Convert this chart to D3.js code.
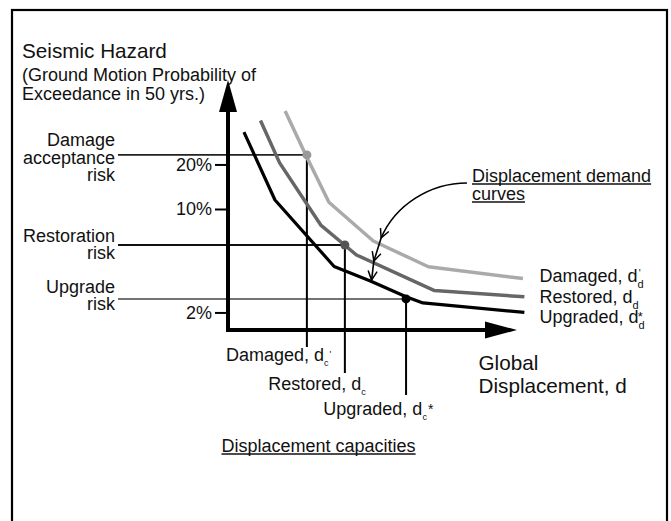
<!DOCTYPE html>
<html>
<head>
<meta charset="utf-8">
<script src="https://cdn.jsdelivr.net/npm/d3@7"></script>
<style>
  body { margin: 0; background: #fff; }
  text { font-family: "Liberation Sans", Arial, Helvetica, sans-serif; fill: #111; }
</style>
</head>
<body>
<div id="chart"></div>
<script>
// displacement (arbitrary units, 0..100) and hazard (% probability in 50 yrs)
const damagedD = [19.7, 26.9, 34.8, 50.1, 69.1, 101.7];
const damagedP = [45.9, 23.0, 11.1, 6.08, 4.07, 3.39];
const restoredD = [11.2, 17.8, 32.1, 40.2, 44.3, 71.2, 102.2];
const restoredP = [39.6, 20.5, 7.74, 5.71, 4.89, 2.81, 2.55];
const upgradedD = [5.5, 16.2, 36.6, 49.1, 61.2, 67.2, 102.2];
const upgradedP = [33.1, 11.5, 4.09, 3.26, 2.56, 2.32, 2.0];

const hazardTicks = [20, 10, 2];
const riskLevels = [23.2, 5.71, 2.47];
const riskLabels = [["Damage", "acceptance", "risk"], ["Restoration", "risk"], ["Upgrade", "risk"]];
const capacityD = [27.2, 40.3, 61.4];
const capacityNames = ["Damaged, d", "Restored, d", "Upgraded, d"];
const demandNames = ["Damaged, d", "Restored, d", "Upgraded, d"];

// annotation arrow: start at label, then hits each demand curve
const arrowD = [82.4, 52.8, 50.3, 49.5];
const arrowP = [15.0, 6.37, 4.45, 3.31];

const W = 671, H = 521;
const svg = d3.select("#chart").append("svg").attr("width", W).attr("height", H);

const x = d3.scaleLinear().domain([0, 100]).range([228, 518]);
const y = d3.scaleLog().domain([1, 100]).range([357, 61]);
const originY = 330;

// frame (open at the bottom)
svg.append("rect")
  .attr("x", 12).attr("y", 10)
  .attr("width", 655).attr("height", 560)
  .attr("fill", "none").attr("stroke", "#000").attr("stroke-width", 2.2);

// title
svg.append("text").attr("x", 22).attr("y", 58).style("font-size", "20.7px").text("Seismic Hazard");
svg.append("text").attr("x", 22).attr("y", 81).style("font-size", "18px").text("(Ground Motion Probability of");
svg.append("text").attr("x", 22).attr("y", 100).style("font-size", "18px").text("Exceedance in 50 yrs.)");

// risk level lines and labels
const riskColors = ["#222", "#111", "#444"];
const riskWidths = [1.8, 2.2, 1.5];
const labelTop = [146, 241.7, 292.5];
riskLevels.forEach((p, i) => {
  svg.append("line")
    .attr("x1", 118).attr("x2", x(capacityD[i]))
    .attr("y1", y(p)).attr("y2", y(p))
    .attr("stroke", riskColors[i]).attr("stroke-width", riskWidths[i]);
  riskLabels[i].forEach((t, j) => {
    svg.append("text")
      .attr("x", 115).attr("y", labelTop[i] + j * 17.5)
      .attr("text-anchor", "end").style("font-size", "18px").text(t);
  });
});

// capacity lines (vertical)
const capBottom = [347, 373, 395];
capacityD.forEach((d, i) => {
  svg.append("line")
    .attr("x1", x(d)).attr("x2", x(d))
    .attr("y1", y(riskLevels[i])).attr("y2", capBottom[i])
    .attr("stroke", "#000").attr("stroke-width", 2);
});

// demand curves
const line = d3.line().x(d => x(d[0])).y(d => y(d[1]));
const curves = [
  { d: damagedD, p: damagedP, color: "#aaaaaa", w: 3.5 },
  { d: restoredD, p: restoredP, color: "#666666", w: 3.5 },
  { d: upgradedD, p: upgradedP, color: "#000000", w: 3.2 }
];
curves.forEach(c => {
  svg.append("path")
    .datum(d3.zip(c.d, c.p))
    .attr("fill", "none")
    .attr("stroke", c.color)
    .attr("stroke-width", c.w)
    .attr("stroke-linejoin", "round")
    .attr("d", line);
});

// dots at capacity / risk intersections
const dotColors = ["#999999", "#555555", "#000000"];
capacityD.forEach((d, i) => {
  svg.append("circle")
    .attr("cx", x(d)).attr("cy", y(riskLevels[i]))
    .attr("r", 4.5).attr("fill", dotColors[i]);
});

// y axis ticks
const yAxis = d3.axisLeft(y).tickValues(hazardTicks).tickFormat(d => d + "%").tickSize(13).tickPadding(3);
const gy = svg.append("g").attr("transform", `translate(${x(0)},0)`).call(yAxis);
gy.select(".domain").remove();
gy.selectAll(".tick line").attr("stroke", "#000").attr("stroke-width", 2);
gy.selectAll(".tick text")
  .attr("fill", "#111")
  .style("font-family", '"Liberation Sans", Arial, sans-serif')
  .style("font-size", "18px");

// axes with arrows
svg.append("line")
  .attr("x1", x(0)).attr("x2", x(0))
  .attr("y1", originY + 2).attr("y2", 110)
  .attr("stroke", "#000").attr("stroke-width", 4);
svg.append("path")
  .attr("d", `M${x(0)},80 L${x(0) - 9},112 L${x(0) + 9},112 Z`)
  .attr("fill", "#000");
svg.append("line")
  .attr("x1", x(0) - 2).attr("x2", 487)
  .attr("y1", originY).attr("y2", originY)
  .attr("stroke", "#000").attr("stroke-width", 4);
svg.append("path")
  .attr("d", `M517,${originY} L485,${originY - 8.5} L485,${originY + 8.5} Z`)
  .attr("fill", "#000");

// label helper: main text + subscript + optional stacked mark
function subLabel(px, py, main, sub, mark, opt) {
  const t = svg.append("text").attr("x", px).attr("y", py).style("font-size", "18px");
  t.append("tspan").text(main);
  t.append("tspan").attr("dy", opt.subDy).style("font-size", opt.subSize + "px").text(sub);
  if (mark) {
    t.append("tspan")
      .attr("dx", opt.markDx).attr("dy", opt.markDy)
      .style("font-size", opt.markSize + "px").text(mark);
  }
  return t;
}

// demand curve labels (right)
const demandY = [281.7, 303.3, 323.3];
const demandMarks = ["'", null, "*"];
demandNames.forEach((n, i) => {
  subLabel(539.5, demandY[i], n, "d", demandMarks[i], {
    subDy: 6, subSize: 11,
    markDx: i === 0 ? -5 : -7, markDy: i === 0 ? -11 : -8,
    markSize: i === 0 ? 10 : 13
  });
});

// capacity labels (bottom)
const capLabelPos = [[226, 361], [268.3, 390], [323.3, 415]];
const capMarks = ["'", null, "*"];
capacityNames.forEach((n, i) => {
  subLabel(capLabelPos[i][0], capLabelPos[i][1], n, "c", capMarks[i], {
    subDy: 5, subSize: 9,
    markDx: 1, markDy: i === 0 ? -9 : -6,
    markSize: i === 0 ? 9 : 14
  });
});

// x axis title
svg.append("text").attr("x", 478.5).attr("y", 370).style("font-size", "20.7px").text("Global");
svg.append("text").attr("x", 478.5).attr("y", 393).style("font-size", "20.7px").text("Displacement, d");

// underlined captions
function underlined(px, py, lines, step) {
  lines.forEach((s, j) => {
    const t = svg.append("text").attr("x", px).attr("y", py + j * step).style("font-size", "18px").text(s);
    const len = t.node().getComputedTextLength();
    svg.append("line")
      .attr("x1", px).attr("x2", px + len)
      .attr("y1", py + j * step + 2.5).attr("y2", py + j * step + 2.5)
      .attr("stroke", "#111").attr("stroke-width", 1.6);
  });
}
underlined(472, 181.5, ["Displacement demand", "curves"], 18);
underlined(221.5, 451.5, ["Displacement capacities"], 18);

// annotation arrow with open heads
svg.append("defs").append("marker")
  .attr("id", "vhead")
  .attr("viewBox", "-10 -6 12 12")
  .attr("refX", 0).attr("refY", 0)
  .attr("markerWidth", 12).attr("markerHeight", 12)
  .attr("markerUnits", "userSpaceOnUse")
  .attr("orient", "auto")
  .append("path")
  .attr("d", "M-9,-4.5 L0,0 L-9,4.5")
  .attr("fill", "none").attr("stroke", "#000").attr("stroke-width", 1.5);

const ax = arrowD.map(x), ay = arrowP.map(y);
svg.append("path")
  .attr("d", `M${ax[0]},${ay[0]} C${ax[0] - 37},${ay[0]} ${ax[1] + 14},${ay[1] - 33} ${ax[1]},${ay[1]}`)
  .attr("fill", "none").attr("stroke", "#000").attr("stroke-width", 1.6)
  .attr("marker-end", "url(#vhead)");
for (let i = 1; i < ax.length - 1; i++) {
  svg.append("line")
    .attr("x1", ax[i]).attr("y1", ay[i])
    .attr("x2", ax[i + 1]).attr("y2", ay[i + 1])
    .attr("stroke", "#000").attr("stroke-width", 1.6)
    .attr("marker-end", "url(#vhead)");
}
</script>
</body>
</html>
